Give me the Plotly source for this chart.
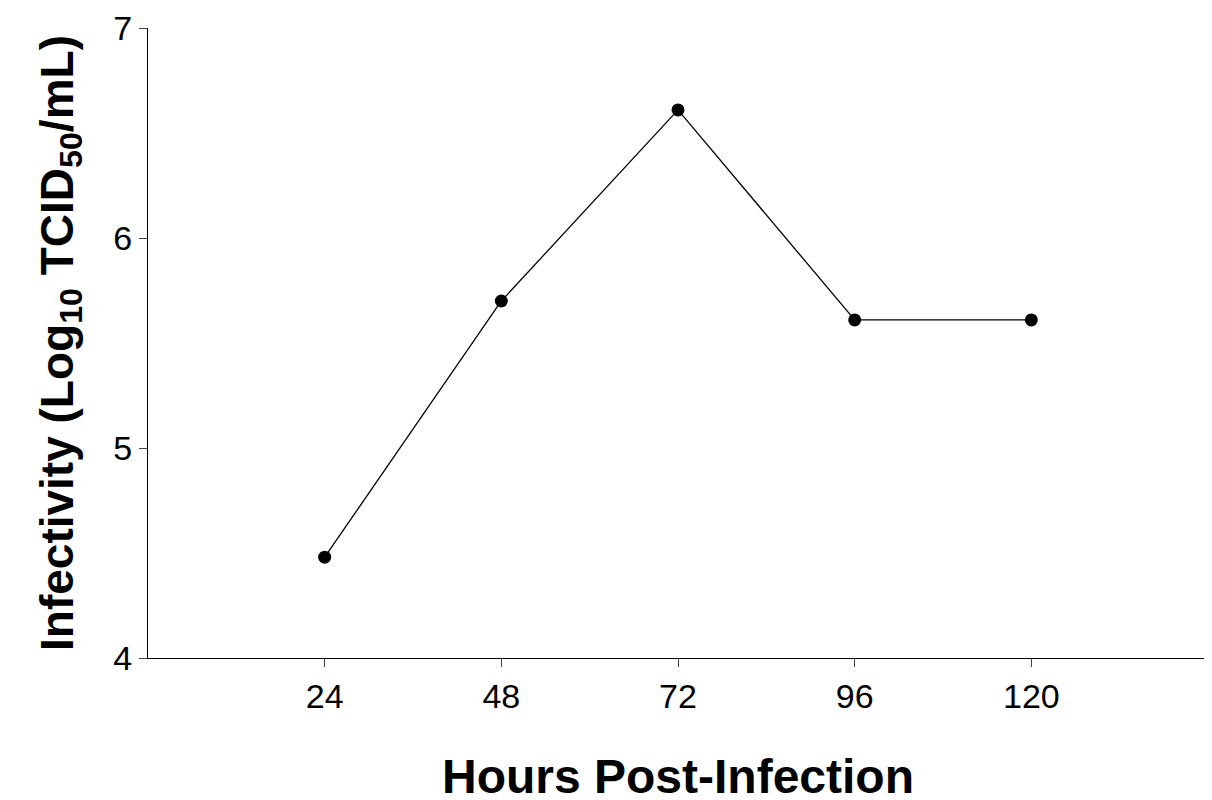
import plotly.graph_objects as go

hours = [24, 48, 72, 96, 120]
infectivity = [4.48, 5.70, 6.61, 5.61, 5.61]
y_ticks = [4, 5, 6, 7]

fig = go.Figure(go.Scatter(
    x=hours, y=infectivity, mode='lines+markers',
    line={'color': 'black', 'width': 1.3},
    marker={'color': 'black', 'size': 13},
))

font = 'Liberation Sans, Arial, sans-serif'
fig.update_layout(
    width=1212, height=800,
    margin={'l': 140, 'r': 12, 't': 20, 'b': 150},
    plot_bgcolor='white', paper_bgcolor='white',
    showlegend=False,
    font={'family': font, 'color': 'black', 'size': 34},
    xaxis={
        'range': [0, 144], 'tickvals': hours, 'ticks': 'outside', 'ticklen': 8,
        'showline': True, 'linecolor': 'black', 'linewidth': 1.3, 'showgrid': False,
        'zeroline': False, 'automargin': False,
        'title': {'text': '<b>Hours Post-Infection</b>', 'font': {'size': 48}, 'standoff': 45},
    },
    yaxis={
        'range': [4, 7], 'tickvals': y_ticks, 'ticks': 'outside', 'ticklen': 8,
        'showline': True, 'linecolor': 'black', 'linewidth': 1.3, 'showgrid': False,
        'zeroline': False, 'automargin': False,
        'title': {'text': '<b>Infectivity (Log<sub>10</sub> TCID<sub>50</sub>/mL)</b>',
                  'font': {'size': 46}, 'standoff': 25},
    },
)

fig.write_html("out.html")
